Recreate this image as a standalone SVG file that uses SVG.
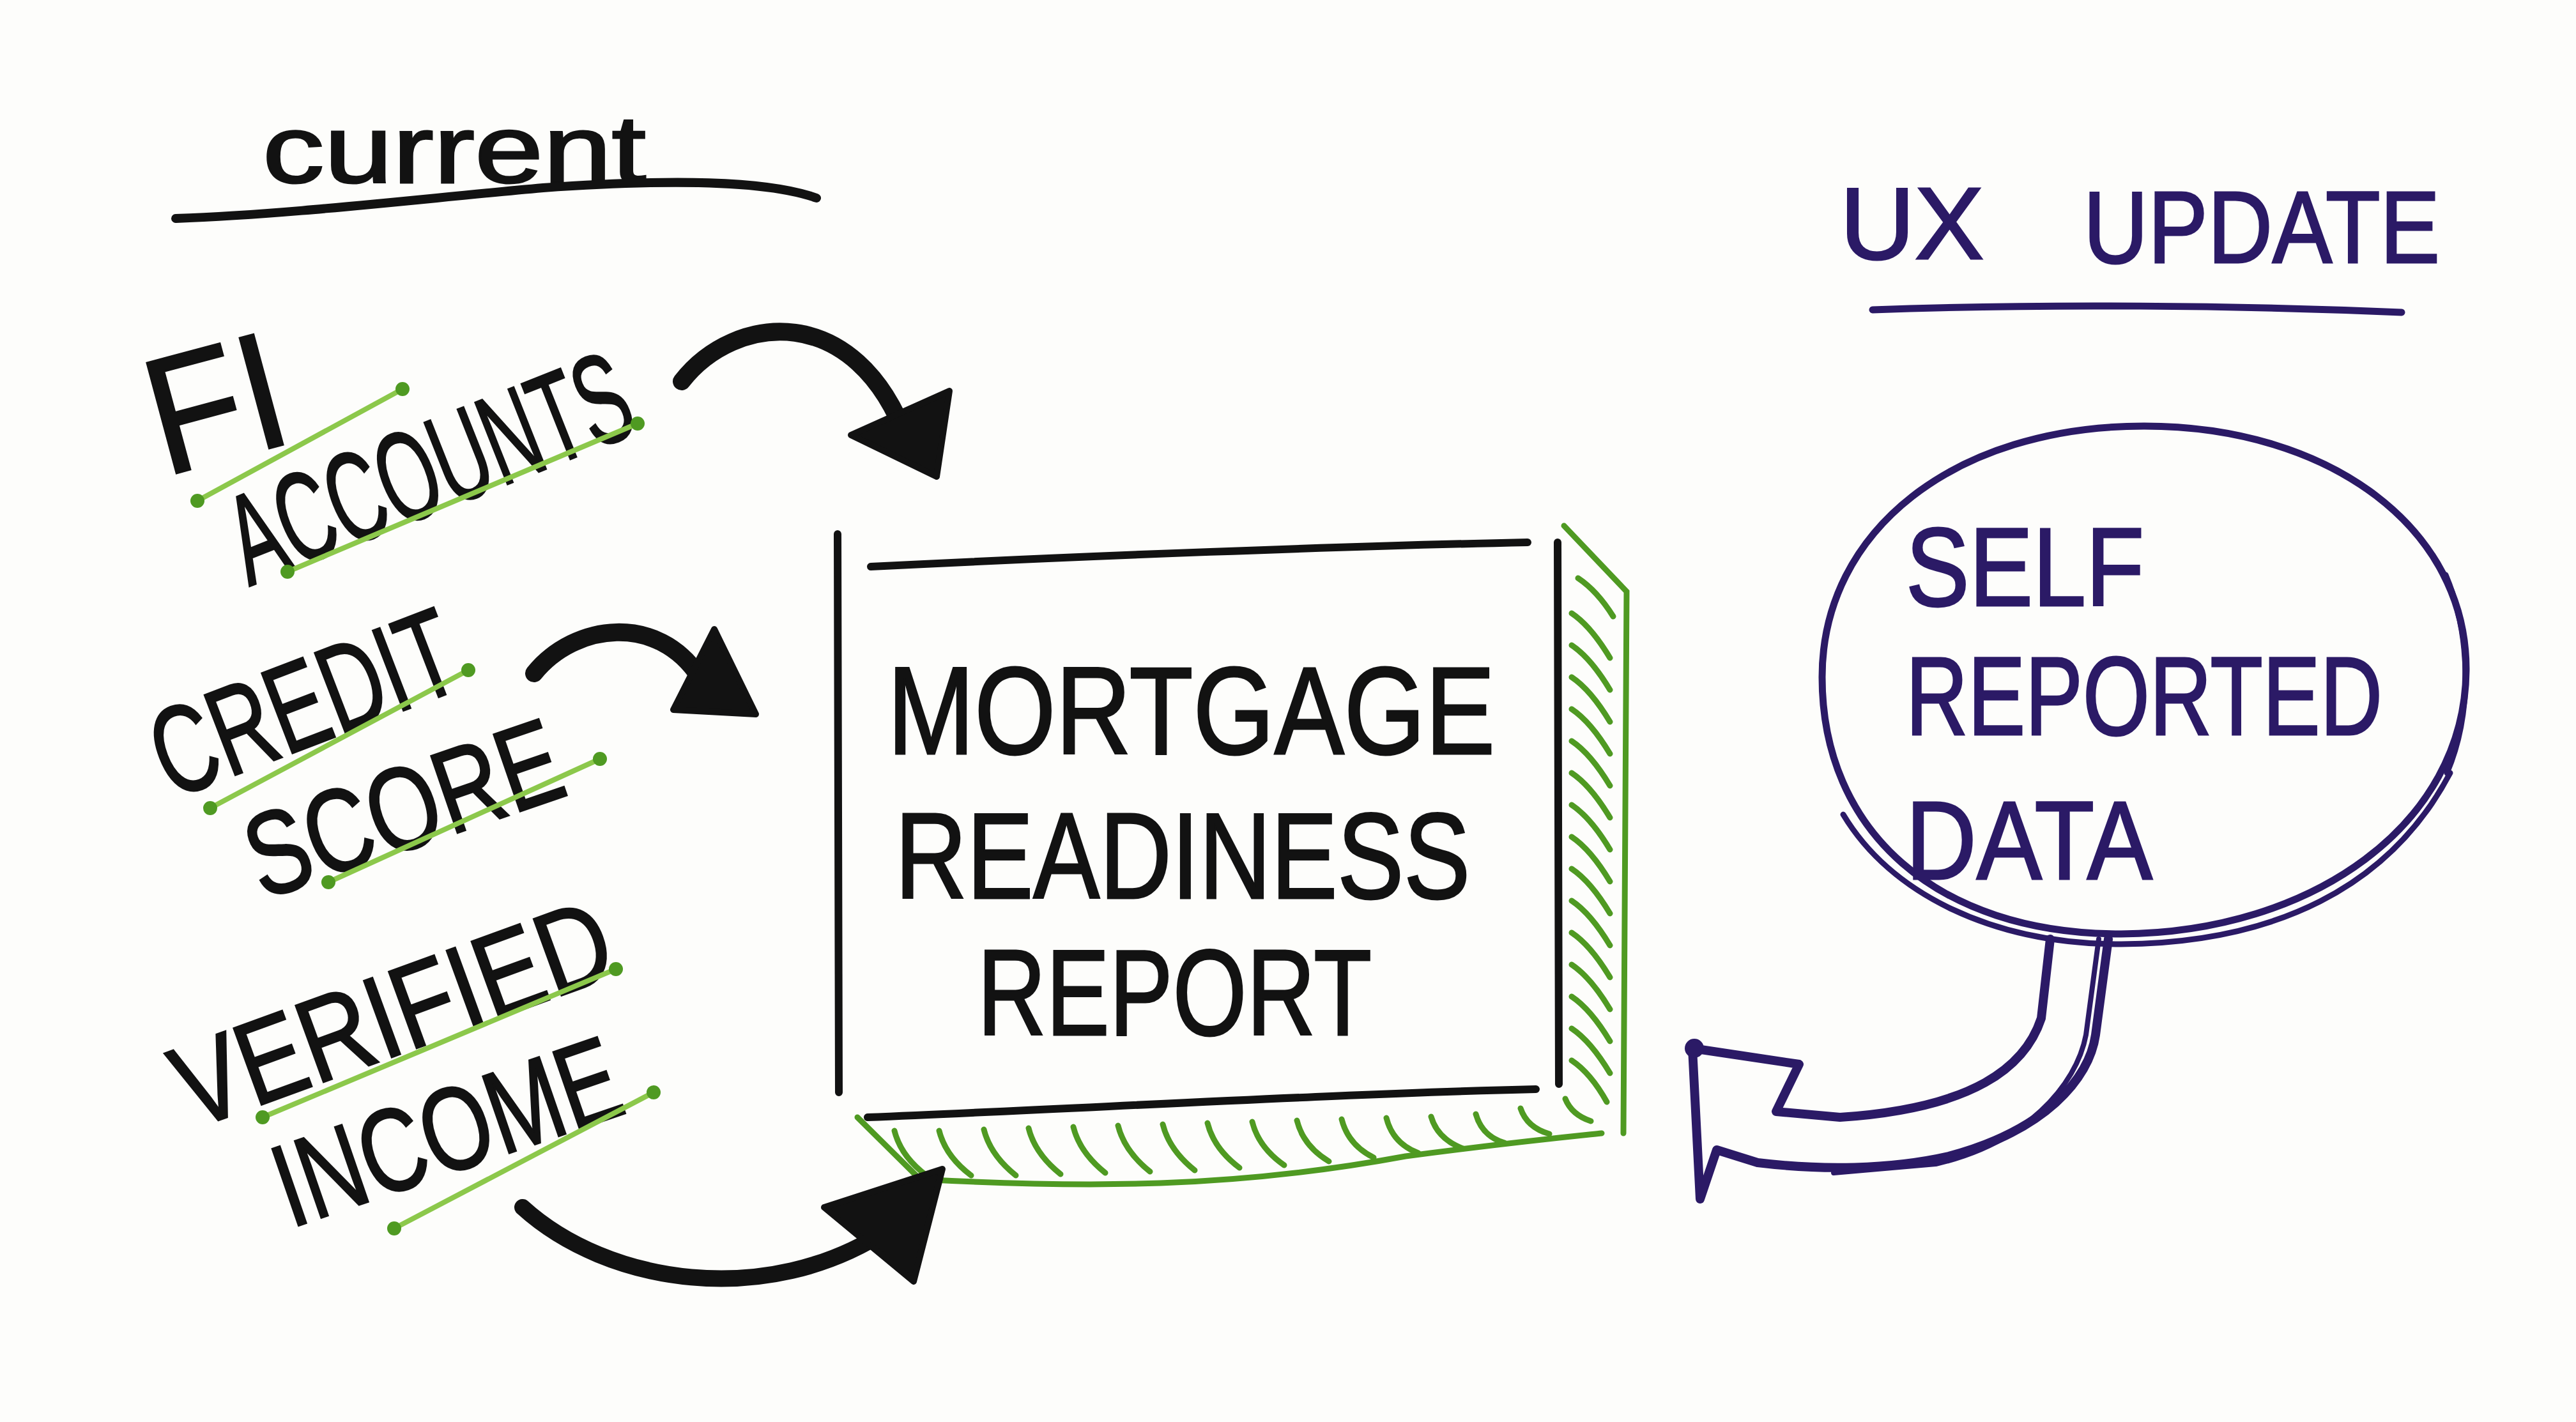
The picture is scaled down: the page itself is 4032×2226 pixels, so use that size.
<svg xmlns="http://www.w3.org/2000/svg" width="4032" height="2226" viewBox="0 0 4032 2226">
<style>
.ink{fill:#121212;font-family:"Liberation Sans","DejaVu Sans",sans-serif;stroke:#121212;stroke-width:3;}
.pink{fill:#2b1a66;font-family:"Liberation Sans","DejaVu Sans",sans-serif;stroke:#2b1a66;stroke-width:3;}
.bl{fill:none;stroke:#121212;stroke-linecap:round;stroke-linejoin:round;}
.gl{fill:none;stroke:#8cc84b;stroke-width:8;stroke-linecap:round;}
.gd{fill:#4f9a22;}
.gh{fill:none;stroke:#4f9a22;stroke-width:9;stroke-linecap:round;}
.pl{fill:none;stroke:#2b1a66;stroke-linecap:round;stroke-linejoin:round;}
.head{fill:#121212;stroke:#121212;stroke-width:10;stroke-linejoin:round;}
</style>
<rect width="4032" height="2226" fill="#fdfdfb"/>

<g id="node-current">
<text class="ink" x="411" y="286" font-size="150" textLength="600" lengthAdjust="spacingAndGlyphs">current</text>
<path class="bl" stroke-width="14" d="M275 342 C450 336 650 312 850 294 C1050 280 1200 282 1278 310"/>
</g>

<g id="node-fi-accounts">
<text class="ink" transform="translate(257,746) rotate(-15)" font-size="260" textLength="215" lengthAdjust="spacingAndGlyphs">FI</text>
<line class="gl" x1="309" y1="784" x2="630" y2="609"/>
<circle class="gd" cx="309" cy="784" r="11"/><circle class="gd" cx="630" cy="609" r="11"/>
<text class="ink" transform="translate(390,918) rotate(-21.6)" font-size="200" textLength="660" lengthAdjust="spacingAndGlyphs">ACCOUNTS</text>
<line class="gl" x1="450" y1="895" x2="998" y2="663"/>
<circle class="gd" cx="450" cy="895" r="11"/><circle class="gd" cx="998" cy="663" r="11"/>
</g>

<g id="node-credit-score">
<text class="ink" transform="translate(268,1252) rotate(-21)" font-size="195" textLength="495" lengthAdjust="spacingAndGlyphs">CREDIT</text>
<line class="gl" x1="329" y1="1265" x2="733" y2="1049"/>
<circle class="gd" cx="329" cy="1265" r="11"/><circle class="gd" cx="733" cy="1049" r="11"/>
<text class="ink" transform="translate(411,1409) rotate(-19)" font-size="185" textLength="510" lengthAdjust="spacingAndGlyphs">SCORE</text>
<line class="gl" x1="514" y1="1381" x2="939" y2="1188"/>
<circle class="gd" cx="514" cy="1381" r="11"/><circle class="gd" cx="939" cy="1188" r="11"/>
</g>

<g id="node-verified-income">
<text class="ink" transform="translate(300,1769) rotate(-20)" font-size="185" textLength="715" lengthAdjust="spacingAndGlyphs">VERIFIED</text>
<line class="gl" x1="411" y1="1749" x2="964" y2="1517"/>
<circle class="gd" cx="411" cy="1749" r="11"/><circle class="gd" cx="964" cy="1517" r="11"/>
<text class="ink" transform="translate(455,1923) rotate(-19)" font-size="185" textLength="560" lengthAdjust="spacingAndGlyphs">INCOME</text>
<line class="gl" x1="617" y1="1923" x2="1023" y2="1710"/>
<circle class="gd" cx="617" cy="1923" r="11"/><circle class="gd" cx="1023" cy="1710" r="11"/>
</g>

<g id="node-report">
<path class="gh" d="M2448 823 L2546 926 L2541 1774 M1342 1749 L1440 1846 C1700 1860 1930 1860 2200 1810 C2350 1790 2450 1780 2507 1774"/>
<path class="gh" stroke-width="7" d="M2470 905 q30 20 55 60 M2460 960 q30 20 60 70 M2460 1010 q30 20 60 70 M2460 1060 q30 20 60 70 M2460 1110 q30 20 60 70 M2460 1160 q30 20 60 70 M2460 1210 q30 20 60 70 M2460 1260 q30 20 60 70 M2460 1310 q30 20 60 70 M2460 1360 q30 20 60 70 M2460 1410 q30 20 60 70 M2460 1460 q30 20 60 70 M2460 1510 q30 20 60 70 M2460 1560 q30 20 60 70 M2460 1610 q30 20 60 70 M2460 1660 q30 20 55 65"/>
<path class="gh" stroke-width="7" d="M1400 1770 q10 40 50 70 M1470 1770 q10 40 50 70 M1540 1768 q10 40 50 72 M1610 1766 q10 40 50 72 M1680 1764 q10 40 50 72 M1750 1762 q10 40 50 72 M1820 1760 q10 40 50 72 M1890 1758 q10 40 50 70 M1960 1756 q10 40 50 68 M2030 1754 q10 40 50 64 M2100 1752 q10 40 50 60 M2170 1750 q10 40 50 55 M2240 1748 q10 35 50 50 M2310 1744 q10 35 45 45 M2380 1735 q10 30 45 40 M2450 1720 q10 25 40 35"/>
<path class="bl" stroke-width="12" d="M1311 836 L1313 1710 M1363 887 C1700 870 2100 855 2391 849 M2438 849 L2440 1697 M1358 1749 C1700 1735 2100 1712 2404 1705"/>
<text class="ink" x="1389" y="1180" font-size="195" textLength="951" lengthAdjust="spacingAndGlyphs">MORTGAGE</text>
<text class="ink" x="1401" y="1406" font-size="192" textLength="900" lengthAdjust="spacingAndGlyphs">READINESS</text>
<text class="ink" x="1530" y="1620" font-size="192" textLength="617" lengthAdjust="spacingAndGlyphs">REPORT</text>
</g>

<g id="node-ux-update">
<text class="pink" x="2880" y="405" font-size="160" textLength="225" lengthAdjust="spacingAndGlyphs">UX</text>
<text class="pink" x="3261" y="411" font-size="160" textLength="558" lengthAdjust="spacingAndGlyphs">UPDATE</text>
<path class="pl" stroke-width="11" d="M2931 485 C3200 475 3500 478 3759 489"/>
</g>

<g id="node-self-reported">
<path class="pl" stroke-width="11" d="M3356 667 C3650 667 3862 830 3860 1050 C3858 1290 3620 1460 3320 1462 C3030 1462 2852 1300 2852 1060 C2852 830 3060 667 3356 667 Z"/>
<path class="pl" stroke-width="9" d="M2885 1275 C2960 1400 3120 1478 3320 1478 C3560 1476 3740 1390 3835 1210"/>
<path class="pl" stroke-width="9" d="M3828 900 C3870 1000 3868 1120 3830 1210"/>
<text class="pink" x="2983" y="948" font-size="175" textLength="373" lengthAdjust="spacingAndGlyphs">SELF</text>
<text class="pink" x="2983" y="1150" font-size="175" textLength="746" lengthAdjust="spacingAndGlyphs">REPORTED</text>
<text class="pink" x="2983" y="1376" font-size="175" textLength="386" lengthAdjust="spacingAndGlyphs">DATA</text>
</g>

<g id="connectors">
<path class="bl" stroke-width="28" d="M1067 597 C1150 490 1340 470 1420 690"/>
<polygon class="head" points="1486,612 1332,681 1466,746"/>
<path class="bl" stroke-width="28" d="M836 1054 C900 975 1030 960 1095 1060"/>
<polygon class="head" points="1118,985 1054,1111 1183,1118"/>
<path class="bl" stroke-width="26" d="M818 1890 C950 2010 1200 2050 1390 1925"/>
<polygon class="head" points="1290,1890 1475,1830 1430,2006"/>
<path class="pl" stroke-width="14" d="M3209 1470 L3195 1594 C3170 1670 3090 1735 2880 1749 L2780 1740 L2816 1666 L2649 1641 L2661 1877 L2687 1800 L2751 1820 C2850 1832 2957 1831 3050 1810 C3200 1770 3270 1690 3280 1620 L3300 1470"/>
<path class="pl" stroke-width="8" d="M3285 1470 L3265 1620 C3250 1700 3170 1790 3030 1822 L2870 1836"/>
<circle cx="2652" cy="1641" r="15" fill="#2b1a66"/>
</g>
</svg>
